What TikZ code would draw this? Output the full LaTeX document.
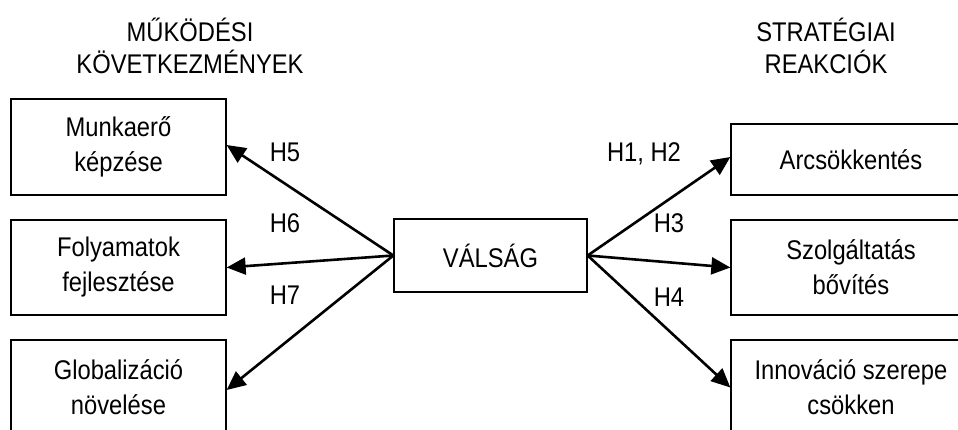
\documentclass[tikz,border=0pt]{standalone}
\usepackage{fontspec}
\setmainfont[FakeStretch=0.88]{Liberation Sans}
\usetikzlibrary{arrows.meta}
\begin{document}
\begin{tikzpicture}[x=1pt,y=-1pt,
  box/.style={draw,line width=1.3pt,align=center,inner sep=0pt,
    font=\fontsize{27}{35}\selectfont},
  head/.style={align=center,font=\fontsize{27}{32}\selectfont},
  lab/.style={anchor=base,inner sep=0pt,font=\fontsize{27}{30}\selectfont},
  conn/.style={line width=2.6pt,-{Triangle[length=19pt,width=17pt]}}]
\clip (0,0) rectangle (958,430);
\fill[white] (0,0) rectangle (958,430);
% headers
\node[head] (h1) at (190,46) {MŰKÖDÉSI\\KÖVETKEZMÉNYEK};
\node[head] (h2) at (826,46) {STRATÉGIAI\\REAKCIÓK};
% left boxes
\node[box,minimum width=215pt,minimum height=96pt] (l1) at (118.5,147) {Munkaerő\\képzése};
\node[box,minimum width=215pt,minimum height=95pt] (l2) at (118.5,267.5) {Folyamatok\\fejlesztése};
\node[box,minimum width=215pt,minimum height=95pt] (l3) at (118.5,387.5) {Globalizáció\\növelése};
% centre
\node[box,minimum width=193pt,minimum height=73pt] (c) at (490.5,255.5) {VÁLSÁG};
% right boxes
\node[box,minimum width=240pt,minimum height=71pt] (r1) at (851,159.5) {Arcsökkentés};
\node[box,minimum width=240pt,minimum height=95pt] (r2) at (851,267.5) {Szolgáltatás\\bővítés};
\node[box,minimum width=240pt,minimum height=95pt] (r3) at (851,387.5) {Innováció szerepe\\csökken};
% connectors
\draw[conn] (c.west) -- ([yshift=2pt]l1.east);
\draw[conn] (c.west) -- (l2.east);
\draw[conn] (c.west) -- ([yshift=-2.5pt]l3.east);
\draw[conn] (c.east) -- ([yshift=2.5pt]r1.west);
\draw[conn] (c.east) -- (r2.west);
\draw[conn] (c.east) -- (r3.west);
% labels
\node[lab] (t5) at (285,162) {H5};
\node[lab] (t6) at (285,233) {H6};
\node[lab] (t7) at (285,305) {H7};
\node[lab] (t12) at (644,162) {H1, H2};
\node[lab] (t3) at (669,233) {H3};
\node[lab] (t4) at (669,306) {H4};
\end{tikzpicture}
\end{document}
